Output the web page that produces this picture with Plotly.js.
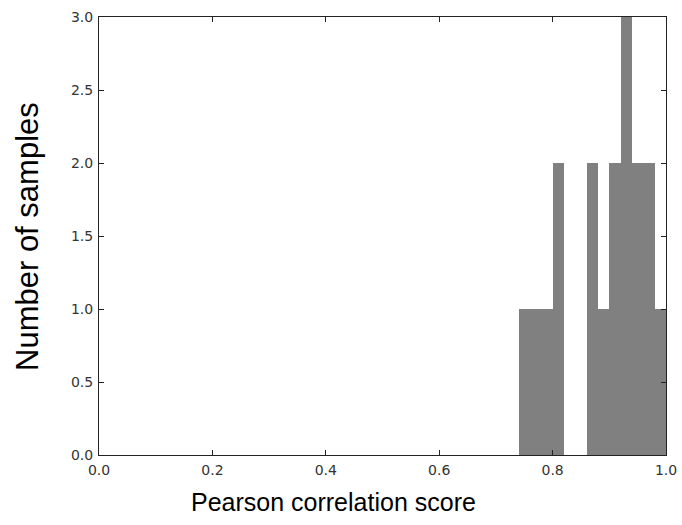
<!DOCTYPE html>
<html>
<head>
<meta charset="utf-8">
<script src="https://cdn.plot.ly/plotly-3.0.1.min.js"></script>
<style>
  html, body { margin: 0; padding: 0; background: #fff; }
  #chart { width: 682px; height: 525px; }
</style>
</head>
<body>
<div id="chart"></div>
<script>
// Histogram of Pearson correlation scores, bins of width 0.02
const binLeftEdges = [0.74, 0.76, 0.78, 0.80, 0.82, 0.84, 0.86, 0.88, 0.90, 0.92, 0.94, 0.96, 0.98];
const sampleCounts = [1, 1, 1, 2, 0, 0, 2, 1, 2, 3, 2, 2, 1];
const binWidth = 0.02;

const xTickValues = [0, 0.2, 0.4, 0.6, 0.8, 1.0];
const yTickValues = [0, 0.5, 1.0, 1.5, 2.0, 2.5, 3.0];

const xLabel = 'Pearson correlation score';
const yLabel = 'Number of samples';

const trace = {
  type: 'bar',
  x: binLeftEdges,
  y: sampleCounts,
  width: binWidth,
  offset: 0,
  marker: { color: '#808080', line: { width: 0 } },
  hoverinfo: 'x+y'
};

const tickFont = { family: 'DejaVu Sans', size: 14, color: '#333' };

const frameAxis = {
  showline: true,
  linecolor: '#222',
  linewidth: 1,
  mirror: 'ticks',
  ticks: 'inside',
  ticklen: 5,
  tickcolor: '#222',
  tickwidth: 1,
  showgrid: false,
  zeroline: false,
  tickfont: tickFont,
  tickformat: '.1f',
  fixedrange: true
};

const layout = {
  width: 682,
  height: 525,
  margin: { l: 99, r: 16, t: 17, b: 70 },
  paper_bgcolor: '#fff',
  plot_bgcolor: '#fff',
  showlegend: false,
  bargap: 0,
  xaxis: Object.assign({}, frameAxis, {
    range: [0, 1],
    tickvals: xTickValues,
    ticklabelstandoff: 2
  }),
  yaxis: Object.assign({}, frameAxis, {
    range: [0, 3],
    tickvals: yTickValues,
    ticklabelstandoff: 2
  }),
  annotations: [
    {
      text: xLabel,
      xref: 'paper', yref: 'paper',
      x: 0.414, y: -0.107,
      xanchor: 'center', yanchor: 'middle',
      showarrow: false,
      font: { family: 'Liberation Sans', size: 25, color: '#000' }
    },
    {
      text: yLabel,
      xref: 'paper', yref: 'paper',
      x: -0.127, y: 0.5,
      xanchor: 'center', yanchor: 'middle',
      textangle: -90,
      showarrow: false,
      font: { family: 'Liberation Sans', size: 31, color: '#000' }
    }
  ]
};

Plotly.newPlot('chart', [trace], layout, { displayModeBar: false, staticPlot: true });
</script>
</body>
</html>
